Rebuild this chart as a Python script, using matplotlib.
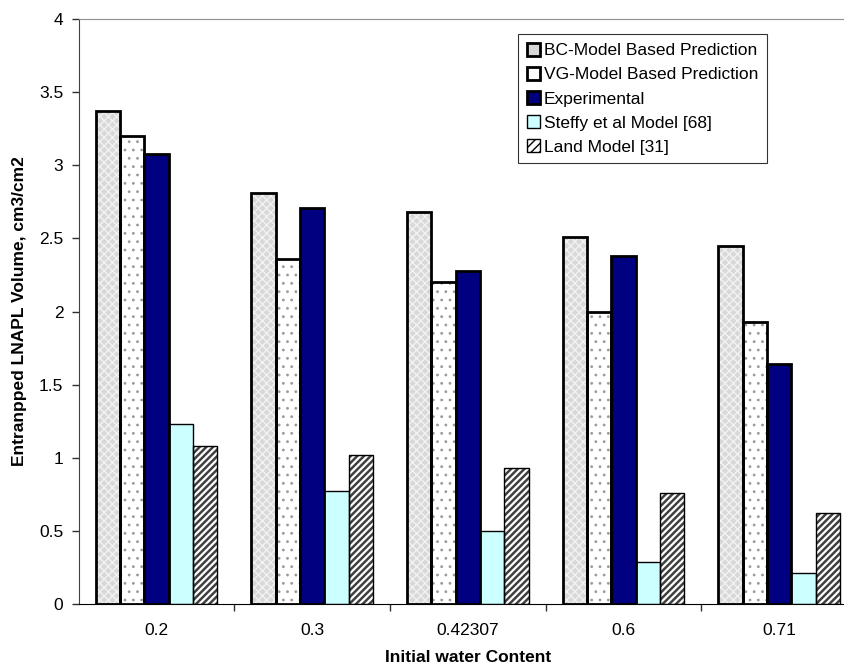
import numpy as np
import matplotlib
matplotlib.use('Agg')
import matplotlib.pyplot as plt
from matplotlib.patches import Patch

plt.rcParams['font.family'] = 'Liberation Sans'

categories = ['0.2', '0.3', '0.42307', '0.6', '0.71']
bc_model = [3.37, 2.81, 2.68, 2.51, 2.45]
vg_model = [3.20, 2.36, 2.20, 2.00, 1.93]
experimental = [3.08, 2.71, 2.28, 2.38, 1.64]
steffy_model = [1.23, 0.77, 0.50, 0.29, 0.21]
land_model = [1.08, 1.02, 0.93, 0.76, 0.62]

# name, values, face, hatch, hatch colour, hatch width, outline width
series = [
    ('BC-Model Based Prediction', bc_model, '#d8d8d8', 'xxxx', '#f2f2f2', 1.0, 2.0),
    ('VG-Model Based Prediction', vg_model, 'white', '..', '#9a9a9a', 0.8, 2.0),
    ('Experimental', experimental, '#000080', None, '#000080', 1.0, 2.0),
    ('Steffy et al Model [68]', steffy_model, '#ccffff', None, '#ccffff', 1.0, 1.0),
    ('Land Model [31]', land_model, 'white', '/////', '#404040', 1.8, 1.0),
]

fig = plt.figure(figsize=(8.44, 6.70), dpi=100)
ax = fig.add_axes([0.0932, 0.0985, 0.9222, 0.8731])

x = np.arange(len(categories))
bw = 0.156
handles = []
for i, (name, vals, fc, hatch, hc, hlw, lw) in enumerate(series):
    pos = x - 2 * bw + i * bw
    plt.rcParams['hatch.linewidth'] = hlw
    ax.bar(pos, vals, width=bw, color=fc, edgecolor=hc, hatch=hatch,
           linewidth=0, zorder=2)
    ax.bar(pos, vals, width=bw, color='none', edgecolor='black',
           linewidth=lw, zorder=3)
    plt.rcParams['hatch.linewidth'] = 1.0
    handles.append(Patch(facecolor=fc, edgecolor='black', linewidth=lw,
                         hatch='////' if hatch == '/////' else None, label=name))

ax.set_xlim(-0.5, len(categories) - 0.5)
ax.set_ylim(0, 4)
ax.set_yticks(np.arange(0, 4.01, 0.5))
ax.set_yticklabels(['0', '0.5', '1', '1.5', '2', '2.5', '3', '3.5', '4'])
ax.set_xticks(x)
ax.set_xticklabels(categories)
ax.set_xticks(np.arange(0.5, len(categories) - 0.5, 1), minor=True)
ax.tick_params(axis='x', which='major', length=0, pad=14, labelsize=12.5)
ax.tick_params(axis='x', which='minor', length=5, width=1, color='#303030')
ax.tick_params(axis='y', length=5, width=1, color='#303030', labelsize=12.5, pad=6)

ax.spines['top'].set_color('#909090')
ax.spines['right'].set_visible(False)
ax.spines['left'].set_color('#404040')
ax.spines['bottom'].set_color('black')

ax.set_xlabel('Initial water Content', fontsize=12.5, fontweight='bold', labelpad=8)
ax.set_ylabel('Entranpped LNAPL Volume, cm3/cm2', fontsize=12.5, fontweight='bold', labelpad=9)

leg = ax.legend(handles=handles, loc='upper left', bbox_to_anchor=(0.5644, 0.974),
                borderaxespad=0, fontsize=12.5, frameon=True, fancybox=False,
                edgecolor='black', handlelength=0.75, handleheight=0.75,
                handletextpad=0.25, labelspacing=0.5, borderpad=0.5)
leg.get_frame().set_linewidth(0.8)

fig.savefig('out.png', dpi=100)
